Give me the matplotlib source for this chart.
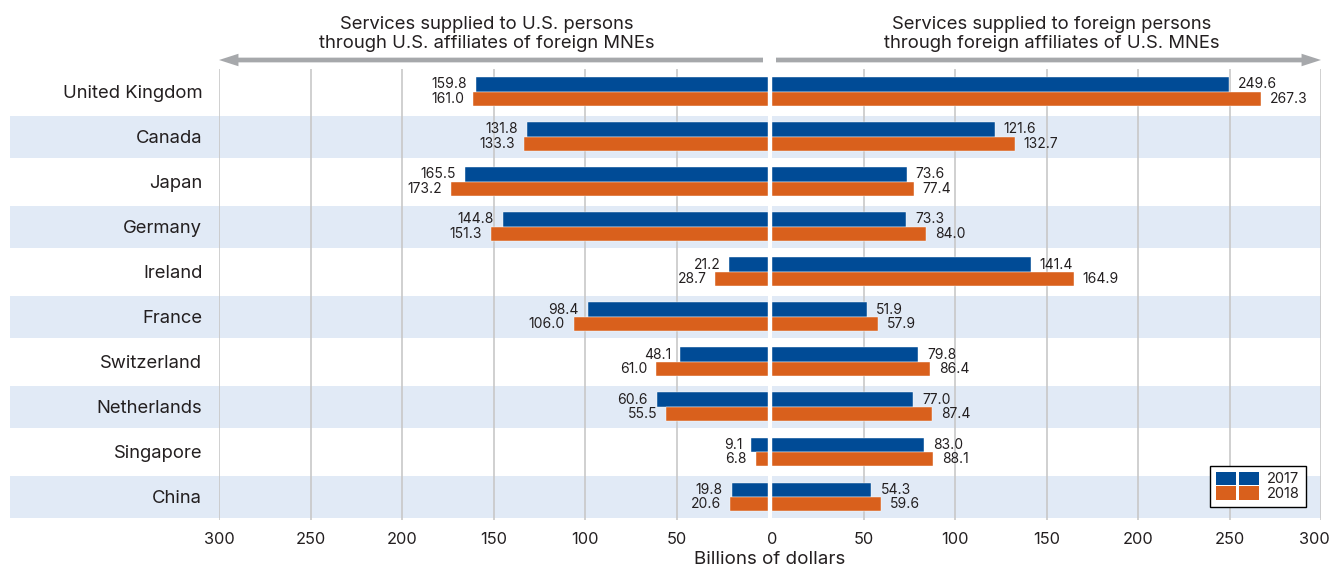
import matplotlib
matplotlib.use("Agg")
import matplotlib.pyplot as plt
import matplotlib.transforms as mtransforms
from matplotlib.patches import Patch, FancyArrowPatch, ArrowStyle
from matplotlib.legend_handler import HandlerTuple

plt.rcParams['font.family'] = ['Inter', 'DejaVu Sans']

# data
countries = ["United Kingdom", "Canada", "Japan", "Germany", "Ireland",
             "France", "Switzerland", "Netherlands", "Singapore", "China"]
# services supplied to U.S. persons through U.S. affiliates of foreign MNEs
inward_2017 = [159.8, 131.8, 165.5, 144.8, 21.2, 98.4, 48.1, 60.6, 9.1, 19.8]
inward_2018 = [161.0, 133.3, 173.2, 151.3, 28.7, 106.0, 61.0, 55.5, 6.8, 20.6]
# services supplied to foreign persons through foreign affiliates of U.S. MNEs
outward_2017 = [249.6, 121.6, 73.6, 73.3, 141.4, 51.9, 79.8, 77.0, 83.0, 54.3]
outward_2018 = [267.3, 132.7, 77.4, 84.0, 164.9, 57.9, 86.4, 87.4, 88.1, 59.6]
years = ["2017", "2018"]
ticks = [0, 50, 100, 150, 200, 250, 300]

blue = "#004B96"
orange = "#D9601C"
band = "#E1EAF6"
grid = "#C8C8C8"
txt = "#231F20"

W, H = 1332, 568
fig = plt.figure(figsize=(W / 100, H / 100), dpi=100)

bot = 1 - 519.5 / H
hgt = (519.5 - 69) / H
axl = fig.add_axes([219 / W, bot, 549 / W, hgt])
axr = fig.add_axes([772 / W, bot, 549 / W, hgt])
axbg = fig.add_axes([10 / W, bot, 209 / W, hgt], zorder=-1)

n = len(countries)
ypos = list(range(n))
bh = 0.32

for ax in (axl, axr, axbg):
    ax.set_ylim(n - 0.5, -0.5)
    ax.patch.set_alpha(0)
    for s in ax.spines.values():
        s.set_visible(False)
    for i in ypos:
        if i % 2 == 1:
            ax.axhspan(i - 0.467, i + 0.467, color=band, lw=0, zorder=0)
axbg.set_xticks([])
axbg.set_yticks([])

panels = [(axl, inward_2017, inward_2018, -1), (axr, outward_2017, outward_2018, 1)]
for ax, v17, v18, side in panels:
    ax.set_xlim(0, 300)
    ax.set_xticks(ticks)
    ax.tick_params(axis='x', length=0, pad=9, labelsize=11.8, labelcolor=txt)
    for t in ticks[1:]:
        ax.axvline(t, color=grid, lw=1.2, zorder=1)
    ax.barh([y - bh / 2 for y in ypos], v17, height=bh, color=blue,
            edgecolor="white", linewidth=0.3, zorder=2)
    ax.barh([y + bh / 2 for y in ypos], v18, height=bh, color=orange,
            edgecolor="white", linewidth=0.3, zorder=2)
    for vals, dy in ((v17, -bh / 2), (v18, bh / 2)):
        for y, v in zip(ypos, vals):
            ax.annotate(f"{v:.1f}", (v, y + dy), xytext=(6.5 * side, 0),
                        textcoords="offset points", va="center",
                        ha="left" if side > 0 else "right",
                        fontsize=10, color=txt)

axl.invert_xaxis()
axl.set_xticklabels([str(t) if t else "" for t in ticks])
axl.set_yticks(ypos)
axl.set_yticklabels(countries, fontsize=13.3, color=txt)
axl.tick_params(axis='y', length=0, pad=12)
axr.set_yticks([])
# last tick label on the right is pulled in so it fits
last = axr.get_xticklabels()[-1]
last.set_transform(last.get_transform() +
                   mtransforms.ScaledTranslation(-7 / 100, 0, fig.dpi_scale_trans))

fig.text(770 / W, 1 - 560 / H, "Billions of dollars", ha="center", va="center",
         fontsize=13.5, color=txt)

# headers with arrows
fig.text(487 / W, 1 - 34 / H,
         "Services supplied to U.S. persons\nthrough U.S. affiliates of foreign MNEs",
         ha="center", va="center", fontsize=13.3, color=txt, linespacing=1.2)
fig.text(1052 / W, 1 - 34 / H,
         "Services supplied to foreign persons\nthrough foreign affiliates of U.S. MNEs",
         ha="center", va="center", fontsize=13.3, color=txt, linespacing=1.2)
style = ArrowStyle("simple", head_length=14, head_width=9, tail_width=3.4)
for x0, x1 in ((763, 219), (776, 1321)):
    fig.patches.append(FancyArrowPatch((x0 / W, 1 - 60 / H), (x1 / W, 1 - 60 / H),
                                       transform=fig.transFigure, arrowstyle=style,
                                       mutation_scale=1, color="#A6A8AB", lw=0,
                                       shrinkA=0, shrinkB=0))

# legend
hb = Patch(facecolor=blue, edgecolor="none")
ho = Patch(facecolor=orange, edgecolor="none")
leg = axr.legend([(hb, hb), (ho, ho)], years,
                 handler_map={tuple: HandlerTuple(ndivide=None, pad=0.25)},
                 loc="lower right", bbox_to_anchor=(0.9727, 0.0277),
                 fontsize=10.5, handlelength=3.0, handleheight=1.05,
                 labelspacing=0, handletextpad=0.55, borderpad=0.4,
                 borderaxespad=0, fancybox=False, framealpha=1)
leg.get_frame().set_edgecolor("black")
leg.get_frame().set_linewidth(1.0)
for t in leg.get_texts():
    t.set_color(txt)

fig.savefig("out.png", dpi=100)
